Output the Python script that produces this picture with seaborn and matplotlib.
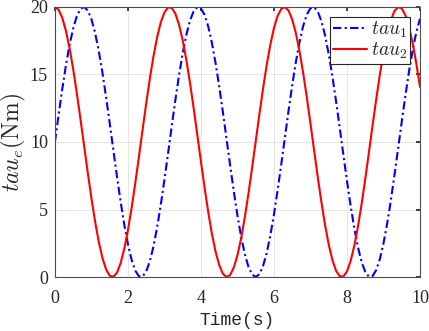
import numpy as np
import pandas as pd
import matplotlib
matplotlib.use("Agg")
import matplotlib.pyplot as plt
import seaborn as sns

time = [round(0.1 * i, 1) for i in range(101)]
tau1 = [10.00, 11.99, 13.89, 15.65, 17.17, 18.41, 19.32, 19.85, 20.00, 19.74,
        19.09, 18.09, 16.76, 15.16, 13.35, 11.41, 9.42, 7.45, 5.58, 3.88,
        2.43, 1.28, 0.48, 0.06, 0.04, 0.41, 1.17, 2.27, 3.69, 5.35,
        7.21, 9.17, 11.17, 13.12, 14.94, 16.57, 17.94, 18.99, 19.68, 19.99,
        19.89, 19.41, 18.55, 17.34, 15.85, 14.12, 12.23, 10.25, 8.26, 6.34,
        4.56, 3.00, 1.72, 0.77, 0.19, 0.00, 0.21, 0.81, 1.77, 3.07,
        4.63, 6.42, 8.34, 10.34, 12.32, 14.20, 15.92, 17.40, 18.59, 19.44,
        19.91, 19.98, 19.66, 18.95, 17.89, 16.50, 14.87, 13.04, 11.08, 9.08,
        7.12, 5.28, 3.62, 2.22, 1.12, 0.39, 0.03, 0.07, 0.51, 1.32,
        2.49, 3.95, 5.65, 7.53, 9.50, 11.50, 13.43, 15.23, 16.82, 18.14,
        19.13]
tau2 = [20.00, 19.80, 19.21, 18.25, 16.97, 15.40, 13.62, 11.70, 9.71, 7.73,
        5.84, 4.12, 2.63, 1.43, 0.58, 0.10, 0.02, 0.32, 1.03, 2.09,
        3.46, 5.10, 6.93, 8.88, 10.88, 12.84, 14.69, 16.35, 17.76, 18.86,
        19.60, 19.97, 19.93, 19.50, 18.69, 17.54, 16.08, 14.39, 12.51, 10.54,
        8.55, 6.61, 4.81, 3.21, 1.89, 0.89, 0.25, 0.00, 0.15, 0.70,
        1.61, 2.86, 4.39, 6.15, 8.06, 10.04, 12.03, 13.93, 15.68, 17.20,
        18.44, 19.34, 19.86, 19.99, 19.73, 19.07, 18.06, 16.72, 15.12, 13.31,
        11.37, 9.37, 7.40, 5.54, 3.85, 2.40, 1.27, 0.47, 0.06, 0.04,
        0.42, 1.19, 2.30, 3.72, 5.39, 7.24, 9.21, 11.21, 13.15, 14.97,
        16.60, 17.96, 19.01, 19.69, 19.99, 19.89, 19.39, 18.52, 17.31, 15.81,
        14.08]
series_names = [r"$tau_1$", r"$tau_2$"]
xticks = [0, 2, 4, 6, 8, 10]
yticks = [0, 5, 10, 15, 20]

sns.set_theme(style="whitegrid")
plt.rcParams["font.family"] = ["Liberation Serif", "DejaVu Serif"]
plt.rcParams["mathtext.fontset"] = "cm"

df = pd.DataFrame({
    "t": time * 2,
    "v": tau1 + tau2,
    "s": [series_names[0]] * len(time) + [series_names[1]] * len(time),
})

fig = plt.figure(figsize=(4.29, 3.31), dpi=100)
ax = fig.add_axes([0.128, 0.163, 0.851, 0.816])
sns.lineplot(data=df, x="t", y="v", hue="s", style="s",
             palette=["#0000ff", "#ff0000"],
             dashes=[(4, 1.6, 1, 1.6), ""], linewidth=1.5, ax=ax)

ax.set_xlim(0, 10)
ax.set_ylim(0, 20)
ax.set_xticks(xticks)
ax.set_yticks(yticks)
ax.tick_params(direction="in", length=3, top=True, right=True,
               labelsize=13, colors="#262626")
ax.tick_params(axis="x", pad=9)
ax.tick_params(axis="y", pad=5)
ax.grid(True, color="#e6e6e6", linewidth=0.7)
for sp in ax.spines.values():
    sp.set_color("#4d4d4d")
    sp.set_linewidth(0.8)
ax.set_facecolor("white")
ax.set_xlabel("Time(s)", fontsize=13, color="#262626", labelpad=4,
              family=["Liberation Mono", "DejaVu Sans Mono"])
ax.set_ylabel(r"$tau_e\mathrm{(Nm)}$", fontsize=17, color="#262626", labelpad=1)

leg = ax.legend(loc="upper right", fontsize=14, frameon=True, fancybox=False,
                edgecolor="#262626", framealpha=1, handlelength=1.75,
                borderpad=0.15, labelspacing=0.05, handletextpad=0.2,
                borderaxespad=0.5)
leg.get_frame().set_linewidth(0.8)

fig.savefig("out.png", dpi=100)
